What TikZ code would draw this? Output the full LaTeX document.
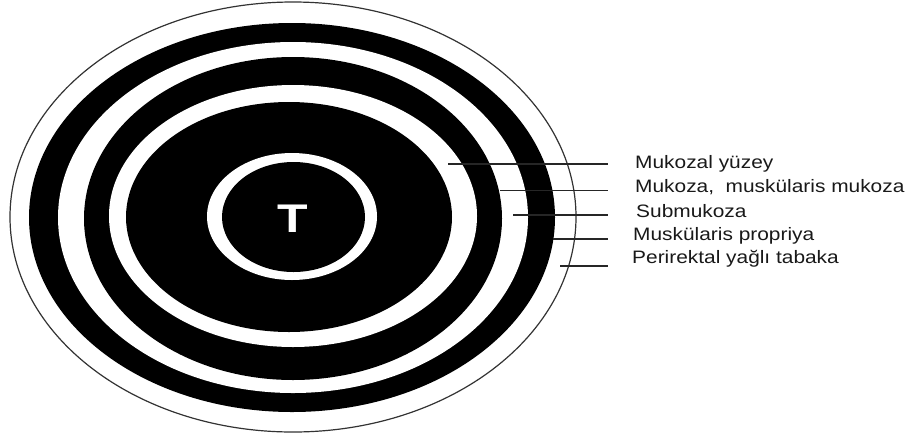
\documentclass[tikz,border=0pt]{standalone}
\usepackage{fontspec}
\setmainfont{Liberation Sans}
\begin{document}
\begin{tikzpicture}[x=1pt,y=-1pt,
  ring/.style={fill=black},
  gap/.style={fill=white},
  leader/.style={draw=black!85,line width=1.1pt},
  lbl/.style={anchor=base west,inner sep=0pt,font=\fontsize{18}{20}\selectfont,xscale=1.16,transform shape,text=black!90},
]
\useasboundingbox (0,0) rectangle (907,437);
% concentric layers
\filldraw[fill=white,draw=black!80,line width=1.2pt] (293,217) ellipse [x radius=283pt, y radius=215pt];
\fill[ring] (292,217.5) ellipse [x radius=263pt, y radius=194.5pt];
\fill[gap]  (293,217.5) ellipse [x radius=235pt, y radius=175.5pt];
\fill[ring] (293,218.5) ellipse [x radius=209pt, y radius=161.5pt];
\fill[gap]  (293,216) ellipse [x radius=184pt, y radius=131pt];
\fill[ring] (289,217) ellipse [x radius=163pt, y radius=115pt];
\fill[gap]  (292,216.5) ellipse [x radius=85pt, y radius=63.5pt];
\fill[ring] (293.5,217) ellipse [x radius=71.5pt, y radius=55pt];
\node[anchor=base,inner sep=0pt,text=white,font=\fontsize{40}{40}\selectfont\bfseries,xscale=1.25,transform shape] (T) at (293,232) {T};
% labels
\node[lbl] (l1) at (635,168) {Mukozal yüzey};
\node[lbl] (l2) at (635,192) {Mukoza, \ muskülaris mukoza};
\node[lbl] (l3) at (636,217) {Submukoza};
\node[lbl] (l4) at (633,240) {Muskülaris propriya};
\node[lbl] (l5) at (632,263) {Perirektal yağlı tabaka};
% leader ends
\coordinate (s1) at (448,164);  \coordinate (e1) at (608,164);
\coordinate (s2) at (500,190.5);\coordinate (e2) at (608,190.5);
\coordinate (s3) at (513,215);  \coordinate (e3) at (608,215);
\coordinate (s4) at (553,239);  \coordinate (e4) at (608,239);
\coordinate (s5) at (560,266);  \coordinate (e5) at (608,266);
\draw[leader] (s1) -- (e1);
\draw[leader] (s2) -- (e2);
\draw[leader] (s3) -- (e3);
\draw[leader] (s4) -- (e4);
\draw[leader] (s5) -- (e5);
\end{tikzpicture}
\end{document}
